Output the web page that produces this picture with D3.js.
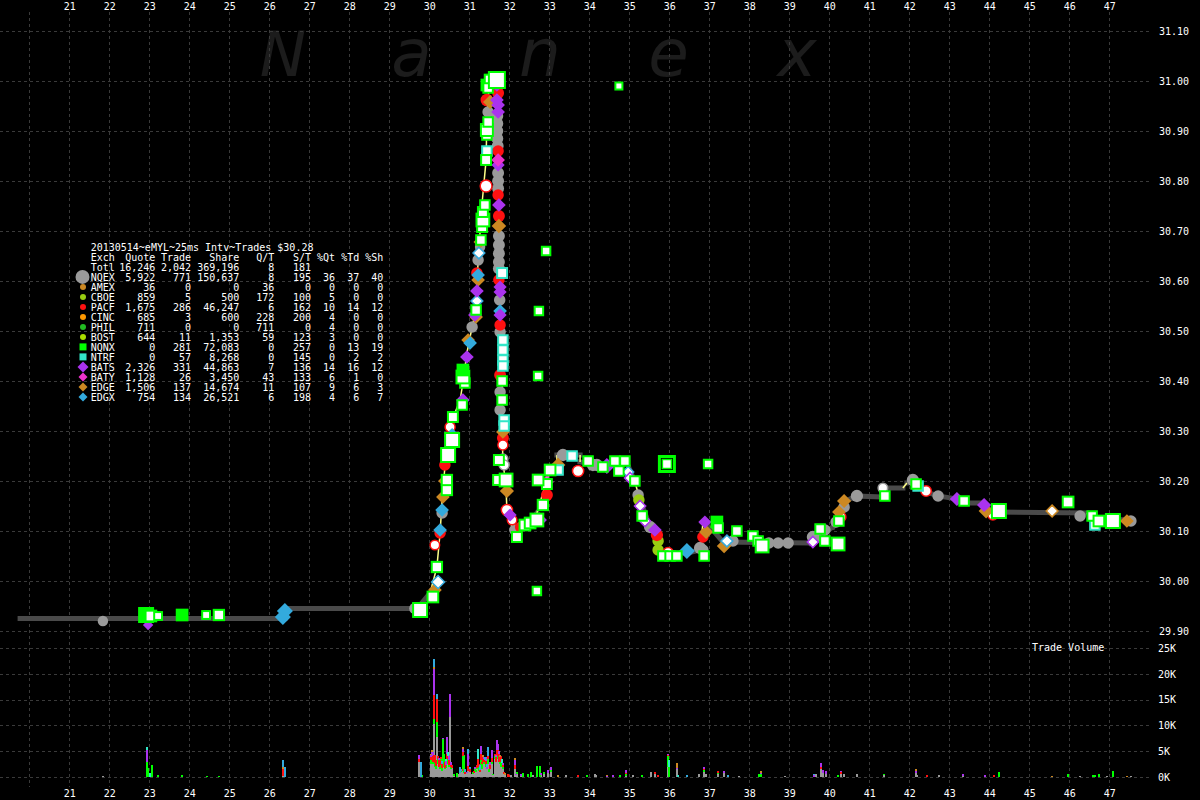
<!DOCTYPE html>
<html><head><meta charset="utf-8">
<script src="https://cdn.jsdelivr.net/npm/d3@7"></script>
<style>
html,body{margin:0;padding:0;background:#000;}
svg{display:block;}
text{font-family:"DejaVu Sans Mono",monospace;font-size:10px;fill:#fff;}
</style></head><body>
<svg id="chart" width="1200" height="800"></svg>
<script>
// ---------- DATA ----------
const secondTicks = d3.range(21, 48);
const gridSeconds = d3.range(20, 48);
const priceTicks = [29.9,30.0,30.1,30.2,30.3,30.4,30.5,30.6,30.7,30.8,30.9,31.0,31.1];
const volTicks = [0,5000,10000,15000,20000,25000];
const watermark = ["N","a","n","e","x"];

const title = "20130514~eMYL~25ms Intv~Trades $30.28";
const headers = ["Exch","Quote","Trade","Share","Q/T","S/T","%Qt","%Td","%Sh"];
const totals = ["Totl",16246,2042,369196,8,181];
const exch   = ["NQEX","AMEX","CBOE","PACF","CINC","PHIL","BOST","NQNX","NTRF","BATS","BATY","EDGE","EDGX"];
const quotes = [5922,36,859,1675,685,711,644,0,0,2326,1128,1506,754];
const trades = [771,0,5,286,3,0,11,281,57,331,26,137,134];
const shares = [150637,0,500,46247,600,0,1353,72083,8268,44863,3450,14674,26521];
const qPerT  = [8,36,172,6,228,711,59,0,0,7,43,11,6];
const sPerT  = [195,0,100,162,200,0,123,257,145,136,133,107,198];
const pctQt  = [36,0,5,10,4,4,3,0,0,14,6,9,4];
const pctTd  = [37,0,0,14,0,0,0,13,2,16,1,6,6];
const pctSh  = [40,0,0,12,0,0,0,19,2,12,0,3,7];

// price path [seconds, price]
const pricePath = [
[19.77,29.925],[26.39,29.925],[26.39,29.945],[29.72,29.945],[29.77,29.952],[30.02,29.976],[30.19,30.028],[30.27,30.096],[30.32,30.162],[30.39,30.228],[30.47,30.268],[30.57,30.296],[30.64,30.336],[30.77,30.362],[30.84,30.396],[30.94,30.456],[31.07,30.508],[31.17,30.542],[31.22,30.642],[31.32,30.756],[31.42,30.842],[31.44,30.928],[31.49,30.988],[31.64,31.008],[31.72,30.976],[31.72,30.842],[31.74,30.708],[31.77,30.562],[31.77,30.496],[31.82,30.396],[31.82,30.296],[31.84,30.242],[31.92,30.182],[31.94,30.142],[32.09,30.102],[32.44,30.108],[32.69,30.136],[32.84,30.176],[33.02,30.222],[33.19,30.222],[33.19,30.252],[33.77,30.252],[33.77,30.238],[34.27,30.232],[34.94,30.236],[35.14,30.198],[35.27,30.162],[35.52,30.108],[35.69,30.088],[35.84,30.056],[36.44,30.056],[36.77,30.062],[36.84,30.116],[37.09,30.102],[37.34,30.078],[39.52,30.076],[40.09,30.108],[40.34,30.158],[40.69,30.170],[41.27,30.168],[41.34,30.186],[41.84,30.186],[41.94,30.196],[42.14,30.196],[42.44,30.178],[42.72,30.170],[43.19,30.164],[43.34,30.156],[43.84,30.156],[44.09,30.138],[46.44,30.136],[46.59,30.124],[47.52,30.122]
];

// trades [seconds, price, shares, flag]  flag: 0 filled, 1 hollow, 2 double
const nqexTrades = [
[21.84,29.920,300,0],[29.64,29.945,500,0],[30.09,29.968,500,0],[30.32,30.136,500,0],[31.07,30.508,500,0],[31.22,30.642,500,0],[31.27,30.668,300,0],[31.47,30.938,500,0],
[31.70,30.930,600,0],[31.70,30.915,600,0],[31.70,30.900,600,0],[31.70,30.885,600,0],[31.71,30.870,600,0],
[31.72,30.816,600,0],[31.72,30.800,600,0],[31.72,30.785,600,0],
[31.74,30.690,600,0],[31.74,30.672,600,0],[31.74,30.655,600,0],[31.74,30.638,600,0],[31.74,30.625,600,0],
[31.76,30.562,500,0],[31.77,30.498,500,0],[31.77,30.378,500,0],[31.77,30.342,500,0],
[31.84,30.244,500,1],[31.87,30.232,500,1],[32.14,30.102,500,0],[33.34,30.252,700,0],[34.09,30.232,700,0],[34.19,30.232,700,0],
[35.22,30.172,500,0],[35.52,30.108,700,0],[36.77,30.066,700,0],[36.84,30.062,500,0],[37.59,30.080,500,0],
[38.49,30.076,500,0],[38.72,30.076,500,0],[38.97,30.076,500,0],[39.59,30.088,700,0],[39.67,30.088,500,0],[39.89,30.102,500,0],
[40.17,30.118,500,0],[40.37,30.148,500,0],[40.69,30.170,700,0],[41.34,30.186,400,1],[42.09,30.202,700,0],[42.72,30.170,500,0],[46.27,30.130,500,0],[47.54,30.120,500,0]
];
const cboeTrades = [[35.24,30.162,500,0],[35.72,30.080,500,0],[35.72,30.062,500,0]];
const pacfTrades = [
[30.14,30.072,400,1],[30.27,30.096,500,0],[30.39,30.232,500,0],[30.52,30.308,500,1],[31.19,30.616,500,0],[31.42,30.790,1000,1],[31.44,30.852,500,0],[31.44,30.962,800,0],
[31.72,30.976,600,0],[31.72,30.860,500,0],[31.72,30.772,500,0],[31.74,30.730,600,0],[31.74,30.602,500,0],[31.77,30.512,500,0],[31.77,30.412,600,0],[31.84,30.286,600,0],
[31.84,30.272,500,1],[31.94,30.142,800,1],[32.07,30.122,400,1],[32.27,30.108,300,0],[32.94,30.172,600,0],[33.72,30.220,800,1],[35.69,30.092,700,0],[35.97,30.056,700,1],
[36.84,30.088,500,0],[40.29,30.128,500,1],[42.42,30.180,600,1],[44.09,30.132,500,1]
];
const edgeTrades = [
[30.14,29.982,600,0],[30.34,30.168,600,0],[30.39,30.200,600,0],[30.97,30.482,600,0],[31.17,30.528,600,0],[31.22,30.602,600,0],[31.27,30.678,500,0],[31.52,30.958,700,0],
[31.74,30.710,800,0],[31.84,30.298,600,0],[31.94,30.180,700,0],[33.22,30.232,800,0],[36.92,30.098,700,0],[37.19,30.108,500,0],[37.37,30.070,800,0],[40.24,30.138,600,0],
[40.37,30.160,700,0],[43.92,30.140,900,0],[47.44,30.120,600,0],[45.57,30.140,500,1]
];
const edgxTrades = [
[26.34,29.928,1200,0],[26.39,29.940,1200,0],[30.22,29.998,800,1],[30.27,30.102,600,0],[30.32,30.142,600,0],[30.57,30.290,1200,0],[31.02,30.476,600,0],[31.19,30.560,500,1],
[31.22,30.612,600,0],[31.24,30.656,500,1],[31.77,30.540,600,0],[34.97,30.218,400,1],[36.44,30.060,1200,0],[37.44,30.080,500,1]
];
const batsTrades = [
[22.97,29.912,100,0],[30.84,30.362,600,0],[30.94,30.448,600,0],[31.14,30.532,600,0],[31.19,30.580,600,0],[31.69,30.992,600,0],[31.69,30.962,600,0],[31.72,30.952,600,0],
[31.72,30.938,600,0],[31.72,30.832,500,0],[31.74,30.752,600,0],[31.77,30.588,500,0],[31.77,30.578,500,0],[31.77,30.532,500,0],[32.02,30.132,500,0],[32.77,30.122,600,0],
[34.44,30.230,1200,0],[35.02,30.206,400,1],[35.27,30.150,400,1],[35.39,30.120,400,1],[35.64,30.102,600,0],[36.89,30.118,500,0],[39.59,30.078,400,1],[43.19,30.164,700,0],[43.87,30.152,700,0]
];
const batyTrades = [[31.72,30.842,600,0],[32.94,30.198,500,1]];
const ntrfTrades = [
[31.44,30.860,500,1],[31.82,30.616,600,1],[31.84,30.482,500,1],[31.84,30.462,500,1],[31.84,30.442,500,1],[31.84,30.430,500,1],[31.87,30.322,500,1],[31.87,30.310,500,1],
[33.22,30.222,500,1],[33.57,30.250,500,1],[42.22,30.190,500,1],[46.64,30.112,500,1]
];
const nqnxTrades = [
[22.92,29.932,2000,0],[23.04,29.930,800,1],[23.22,29.930,200,1],[23.82,29.932,800,0],[24.42,29.932,200,1],[24.74,29.932,700,1],
[29.77,29.942,2000,1],[30.09,29.968,800,1],[30.19,30.028,700,1],[30.44,30.182,700,1],[30.44,30.202,700,1],[30.47,30.252,2000,1],[30.57,30.282,2000,1],[30.59,30.328,600,1],
[30.82,30.352,500,1],[30.89,30.396,500,1],[30.84,30.408,1500,1],[30.84,30.422,800,0],[31.17,30.542,500,1],[31.29,30.682,500,1],[31.32,30.708,600,1],[31.34,30.722,1500,1],
[31.34,30.738,600,1],[31.39,30.752,500,1],[31.42,30.842,600,1],[31.44,30.892,500,1],[31.44,30.902,1200,1],[31.47,30.918,500,1],[31.44,30.992,800,0],[31.52,31.002,800,1],
[31.47,30.986,500,1],[31.69,31.002,3000,1],
[31.82,30.400,500,1],[31.82,30.362,500,1],[31.74,30.242,600,1],[31.72,30.202,600,1],[31.92,30.202,1500,1],[32.19,30.088,600,1],[32.39,30.112,800,1],[32.52,30.116,800,1],
[32.69,30.122,1500,1],[32.84,30.152,700,1],[32.94,30.194,600,1],[32.72,30.202,800,1],[33.02,30.222,800,1],
[33.97,30.240,500,1],[34.34,30.228,500,1],[34.64,30.240,500,1],[34.74,30.220,500,1],[34.89,30.240,500,1],[35.14,30.200,500,1],[35.32,30.130,500,1],[35.84,30.050,500,1],
[36.02,30.050,500,1],[36.19,30.050,500,1],[36.87,30.050,500,1],[37.19,30.118,800,0],[37.22,30.106,500,1],[37.69,30.100,500,1],[38.09,30.090,500,1],[38.22,30.080,500,1],
[38.32,30.070,1500,1],[39.77,30.104,500,1],[39.89,30.080,500,1],[40.22,30.074,1500,1],[40.24,30.120,500,1],[41.39,30.170,500,1],[42.17,30.194,500,1],[43.37,30.160,500,1],
[44.24,30.140,2000,1],[45.97,30.158,800,1],[46.57,30.130,500,1],[46.74,30.120,800,1],[47.09,30.120,2000,1],
[34.74,30.990,100,1],[32.92,30.660,300,1],[32.74,30.540,300,1],[32.72,30.410,300,1],[32.69,29.980,300,1],[36.97,30.234,300,1],[35.94,30.234,3000,2]
];

// trade volume per 25ms interval [seconds, shares]
const volNQEX = [[21.85,150],[26.35,200],[29.75,3000],[30.05,2500],[30.075,3000],[30.10,2500],[30.125,10300],[30.15,2000],[30.175,1500],[30.20,7700],[30.225,2500],[30.25,2000],[30.275,1500],[30.30,2000],[30.325,1200],[30.35,3000],[30.375,2000],[30.40,1500],[30.425,1800],[30.45,3500],[30.475,2500],[30.50,2000],[30.525,11600],[30.55,1500],[30.575,1800],[30.60,400],[30.625,200],[30.725,600],[30.77,800],[30.80,900],[30.825,1200],[30.85,1500],[30.875,800],[30.90,600],[30.935,700],[30.975,1200],[31.02,1000],[31.05,500],[31.10,600],[31.125,800],[31.15,1000],[31.175,900],[31.20,1500],[31.225,2000],[31.25,1200],[31.275,1000],[31.30,2000],[31.325,1500],[31.35,2500],[31.375,3000],[31.40,2500],[31.425,2000],[31.45,1500],[31.475,2500],[31.50,1000],[31.525,1500],[31.56,2500],[31.60,300],[31.65,3500],[31.675,3000],[31.69,4000],[31.715,3500],[31.735,3000],[31.76,2500],[31.785,2000],[31.81,2000],[31.835,1500],[31.86,600],[31.90,400],[32.05,300],[32.14,1500],[32.175,300],[32.20,500],[32.30,200],[32.60,300],[32.80,400],[32.87,600],[32.975,800],[33.035,1000],[33.41,400],[34.14,500],[34.17,400],[34.92,200],[35.10,400],[35.54,900],[35.64,500],[35.975,2000],[36.20,1500],[36.75,600],[36.875,1000],[36.92,500],[37.225,500],[37.375,700],[37.75,150],[38.9,100],[39.67,600],[39.79,1500],[39.835,800],[39.91,500],[40.30,600],[40.375,600],[40.70,600],[41.37,400],[42.17,700],[42.20,400],[42.75,300],[43.35,200],[46.27,150],[46.935,150],[47.54,150]];
const volNQNX = [[22.95,3000],[22.975,1700],[23.06,2400],[23.225,300],[23.825,300],[24.435,150],[24.75,200],[29.825,300],[30.05,800],[30.075,1000],[30.10,500],[30.125,1000],[30.15,800],[30.175,600],[30.20,2900],[30.225,1000],[30.275,800],[30.30,1500],[30.325,500],[30.35,4300],[30.375,2500],[30.40,300],[30.425,500],[30.475,1000],[30.50,300],[30.55,500],[30.625,300],[30.685,700],[30.80,300],[30.85,2500],[30.875,3500],[31.10,300],[31.15,600],[31.175,500],[31.20,300],[31.25,800],[31.30,1200],[31.325,1000],[31.35,500],[31.40,800],[31.425,500],[31.475,1000],[31.50,600],[31.56,500],[31.60,200],[31.65,500],[31.715,800],[31.76,500],[31.785,1500],[31.81,800],[31.835,500],[32.20,500],[32.35,700],[32.46,500],[32.54,1000],[32.70,2100],[32.77,2100],[32.87,400],[33.035,300],[33.95,300],[34.77,400],[34.92,300],[35.325,400],[35.975,2000],[36.00,2000],[36.875,300],[37.225,300],[38.24,600],[38.29,500],[40.225,400],[41.37,200],[44.25,1000],[45.975,500],[46.59,300],[46.64,300],[46.75,500],[47.10,1200]];
const volPACF = [[26.35,1300],[29.75,500],[30.05,500],[30.10,1200],[30.125,4500],[30.15,1500],[30.175,1200],[30.20,4500],[30.225,500],[30.25,1200],[30.275,1000],[30.30,300],[30.325,800],[30.40,1200],[30.45,1000],[30.475,500],[30.50,1000],[30.55,300],[30.575,600],[30.825,300],[30.85,800],[30.90,300],[30.975,1000],[31.02,600],[31.125,400],[31.20,600],[31.225,1500],[31.25,500],[31.275,400],[31.30,1300],[31.325,500],[31.35,800],[31.375,500],[31.425,600],[31.475,500],[31.525,800],[31.56,700],[31.65,500],[31.675,800],[31.69,1200],[31.715,1000],[31.735,1500],[31.76,800],[31.785,500],[31.835,300],[31.86,300],[31.97,500],[32.00,400],[32.14,800],[33.725,400],[34.92,300],[35.64,400],[35.725,400],[35.975,200],[36.875,300],[37.225,400],[39.79,400],[40.30,300],[42.435,300],[44.12,400]];
const volBATS = [[22.95,2300],[29.75,800],[30.05,500],[30.075,800],[30.10,700],[30.125,5200],[30.25,500],[30.35,300],[30.425,800],[30.45,3300],[30.50,900],[30.525,4400],[30.55,600],[30.85,600],[30.935,300],[30.975,2200],[31.15,400],[31.30,1500],[31.375,300],[31.425,700],[31.45,500],[31.525,600],[31.56,1500],[31.675,500],[31.69,2000],[31.715,1000],[31.735,500],[31.835,500],[32.14,1000],[32.175,300],[32.30,300],[32.80,300],[32.975,600],[33.035,700],[34.435,200],[34.60,300],[34.92,500],[35.975,300],[36.20,300],[36.875,400],[37.375,500],[38.29,300],[39.625,300],[39.79,900],[39.835,600],[39.91,700],[40.30,300],[42.17,400],[43.35,300],[43.89,400]];
const volEDGE = [[26.35,400],[30.05,200],[30.075,400],[30.125,400],[30.85,400],[31.35,400],[31.76,500],[31.90,300],[32.14,300],[33.225,400],[34.435,200],[36.20,1000],[38.29,400],[42.17,500],[45.57,200],[47.44,200]];
const volEDGX = [[26.35,1400],[26.40,1900],[29.80,2900],[30.125,1500],[30.20,900],[30.325,600],[30.77,1200],[30.80,300],[30.90,600],[30.975,1000],[31.02,400],[31.275,1000],[31.40,500],[31.45,500],[31.475,1800],[36.45,300],[37.475,300],[39.625,300]];
const volNTRF = [[22.95,600],[23.02,800],[30.425,400],[30.475,800],[31.225,1900],[31.81,600],[36.00,1300],[36.225,300]];

// ---------- STYLE ----------
const C = {NQEX:"#9a9a9a",AMEX:"#cc8822",CBOE:"#99cc11",PACF:"#ff1111",CINC:"#ff9900",PHIL:"#22bb22",BOST:"#aadd00",
  NQNX:"#00ff00",NTRF:"#33e6c8",BATS:"#aa33ee",BATY:"#ee33cc",EDGE:"#cc8822",EDGX:"#33aadd"};
const legendShape = {NQEX:"bigcircle",AMEX:"circle",CBOE:"circle",PACF:"circle",CINC:"circle",PHIL:"circle",BOST:"circle",
  NQNX:"square",NTRF:"square",BATS:"bigdiamond",BATY:"diamond",EDGE:"diamond",EDGX:"diamond"};

const svg = d3.select("#chart");
svg.append("rect").attr("width",1200).attr("height",800).attr("fill","#000");

const x = d3.scaleLinear().domain([21,47]).range([69.3,1109.3]);
const y = d3.scaleLinear().domain([29.9,31.1]).range([631,31]);
const yv = d3.scaleLinear().domain([0,25000]).range([777,648]);
const sz = d3.scaleSqrt().domain([0,3000]).range([7,18]).clamp(true);

// watermark
svg.append("g").selectAll("text").data(watermark).join("text")
  .attr("x",(d,i)=>283 + i*128.5).attr("y",76)
  .attr("text-anchor","middle")
  .style("font-family","'DejaVu Sans',sans-serif").style("font-style","italic")
  .style("font-size",(d,i)=> i===0 ? "62px" : "66px")
  .style("fill","#1c1c1c").text(d=>d);

// grid
const grid = svg.append("g").attr("stroke","#3a3a3a").attr("stroke-dasharray","3,3").attr("shape-rendering","crispEdges");
grid.selectAll(".vg").data(gridSeconds).join("line")
  .attr("x1",d=>Math.round(x(d))+0.5).attr("x2",d=>Math.round(x(d))+0.5).attr("y1",12).attr("y2",787);
grid.selectAll(".hg").data(priceTicks).join("line")
  .attr("x1",0).attr("x2",1152).attr("y1",d=>Math.round(y(d))+0.5).attr("y2",d=>Math.round(y(d))+0.5);
grid.selectAll(".vlg").data(volTicks).join("line")
  .attr("x1",0).attr("x2",1152).attr("y1",d=>Math.round(yv(d))+0.5).attr("y2",d=>Math.round(yv(d))+0.5);

// axes (labels only)
function styleAxis(g){
  g.select(".domain").remove();
  g.selectAll("line").remove();
  g.attr("font-family",null).attr("font-size",null);
  g.selectAll("text").attr("fill","#fff");
}
svg.append("g").attr("transform","translate(0,9.5)")
  .call(d3.axisTop(x).tickValues(secondTicks).tickFormat(d3.format("d")).tickSize(0).tickPadding(0)).call(styleAxis);
svg.append("g").attr("transform","translate(0,790)")
  .call(d3.axisBottom(x).tickValues(secondTicks).tickFormat(d3.format("d")).tickSize(0).tickPadding(0)).call(styleAxis);
svg.append("g").attr("transform","translate(1159,0)")
  .call(d3.axisRight(y).tickValues(priceTicks).tickFormat(d3.format(".2f")).tickSize(0).tickPadding(0)).call(styleAxis);
svg.append("g").attr("transform","translate(1158,0)")
  .call(d3.axisRight(yv).tickValues(volTicks).tickFormat(d=>(d/1000)+"K").tickSize(0).tickPadding(0)).call(styleAxis);
svg.append("text").attr("x",1032).attr("y",651).text("Trade Volume");

// volume stacked bars
const volKeys = ["NQEX","NQNX","PACF","BATS","EDGE","EDGX","NTRF"];
const volSeries = {NQEX:volNQEX,NQNX:volNQNX,PACF:volPACF,BATS:volBATS,EDGE:volEDGE,EDGX:volEDGX,NTRF:volNTRF};
const tMap = new Map();
volKeys.forEach(k=>volSeries[k].forEach(([t,v])=>{
  if(!tMap.has(t)){const o={t}; volKeys.forEach(kk=>o[kk]=0); tMap.set(t,o);}
  tMap.get(t)[k]+=v;
}));
const volTable = Array.from(tMap.values()).sort((a,b)=>a.t-b.t);
const stacked = d3.stack().keys(volKeys)(volTable);
svg.append("g").attr("shape-rendering","crispEdges").selectAll("g").data(stacked).join("g")
  .attr("fill",d=>C[d.key])
  .selectAll("rect").data(d=>d.filter(s=>s[1]>s[0])).join("rect")
  .attr("x",d=>Math.round(x(d.data.t))-1).attr("width",2)
  .attr("y",d=>yv(d[1])).attr("height",d=>yv(d[0])-yv(d[1]));

// price path
const segs = d3.pairs(pricePath);
const pathG = svg.append("g");
pathG.selectAll(".pg").data(segs.filter(([a,b])=>b[0]-a[0]>=0.2)).join("line")
  .attr("x1",d=>x(d[0][0])).attr("y1",d=>y(d[0][1])).attr("x2",d=>x(d[1][0])).attr("y2",d=>y(d[1][1]))
  .attr("stroke","#4a4a4a").attr("stroke-width",5).attr("stroke-linecap","square");
pathG.selectAll(".py").data(segs.filter(([a,b])=>b[0]-a[0]<0.2)).join("line")
  .attr("x1",d=>x(d[0][0])).attr("y1",d=>y(d[0][1])).attr("x2",d=>x(d[1][0])).attr("y2",d=>y(d[1][1]))
  .attr("stroke","#ffff88").attr("stroke-width",1.5);

// markers
function diamondPath(cx,cy,s){const h=s/2;return `M${cx},${cy-h}L${cx+h},${cy}L${cx},${cy+h}L${cx-h},${cy}Z`;}
function drawTrades(data, shape, color){
  const g = svg.append("g");
  data.forEach(([t,p,v,f])=>{
    const cx=x(t), cy=y(p), s=sz(v);
    if(shape==="circle"){
      g.append("circle").attr("cx",cx).attr("cy",cy).attr("r",f? s/2-0.75 : s/2)
        .attr("fill",f?"#fff":color).attr("stroke",f?color:"none").attr("stroke-width",1.5);
    } else if(shape==="diamond"){
      g.append("path").attr("d",diamondPath(cx,cy,f? s*1.15-1.5 : s*1.15))
        .attr("fill",f?"#fff":color).attr("stroke",f?color:"none").attr("stroke-width",1.5);
    } else {
      if(f===2){
        g.append("rect").attr("x",cx-s/2+1.5).attr("y",cy-s/2+1.5).attr("width",s-3).attr("height",s-3)
          .attr("fill","#000").attr("stroke",color).attr("stroke-width",3);
        const si=s-9;
        g.append("rect").attr("x",cx-si/2).attr("y",cy-si/2).attr("width",si).attr("height",si)
          .attr("fill","#fff").attr("stroke",color).attr("stroke-width",1.5);
      } else if(f===1){
        g.append("rect").attr("x",cx-s/2+1).attr("y",cy-s/2+1).attr("width",s-2).attr("height",s-2)
          .attr("fill","#fff").attr("stroke",color).attr("stroke-width",2);
      } else {
        g.append("rect").attr("x",cx-s/2).attr("y",cy-s/2).attr("width",s).attr("height",s).attr("fill",color);
      }
    }
  });
}
drawTrades(nqexTrades,"circle",C.NQEX);
drawTrades(cboeTrades,"circle",C.CBOE);
drawTrades(pacfTrades,"circle",C.PACF);
drawTrades(edgeTrades,"diamond",C.EDGE);
drawTrades(edgxTrades,"diamond",C.EDGX);
drawTrades(batsTrades,"diamond",C.BATS);
drawTrades(batyTrades,"diamond",C.BATY);
drawTrades(ntrfTrades,"square",C.NTRF);
drawTrades(nqnxTrades,"square",C.NQNX);

// legend table
const lg = svg.append("g");
const colRight = [155.3,191,239.3,274.3,311,335,359.3,383.3];
const base = i => 250.5 + 10*i;
lg.append("text").attr("x",90.7).attr("y",base(0)).text(title);
lg.append("text").attr("x",90.7).attr("y",base(1)).text(headers[0]);
headers.slice(1).forEach((h,j)=>lg.append("text").attr("x",colRight[j]).attr("y",base(1)).attr("text-anchor","end").text(h));
const fmt = d3.format(",");
lg.append("text").attr("x",90.7).attr("y",base(2)).text(totals[0]);
totals.slice(1).forEach((v,j)=>lg.append("text").attr("x",colRight[j]).attr("y",base(2)).attr("text-anchor","end").text(fmt(v)));
exch.forEach((e,i)=>{
  const r = i+3;
  const vals=[quotes[i],trades[i],shares[i],qPerT[i],sPerT[i],pctQt[i],pctTd[i],pctSh[i]];
  lg.append("text").attr("x",90.7).attr("y",base(r)).text(e);
  vals.forEach((v,j)=>lg.append("text").attr("x",colRight[j]).attr("y",base(r)).attr("text-anchor","end").text(fmt(v)));
  const cy = base(r)-3.6, cx = 83, col = C[e], sh = legendShape[e];
  if(sh==="bigcircle") lg.append("circle").attr("cx",cx-0.5).attr("cy",cy).attr("r",7).attr("fill",col);
  else if(sh==="circle") lg.append("circle").attr("cx",cx).attr("cy",cy).attr("r",3).attr("fill",col);
  else if(sh==="square") lg.append("rect").attr("x",cx-3.5).attr("y",cy-3.5).attr("width",7).attr("height",7).attr("fill",col);
  else lg.append("path").attr("d",diamondPath(cx,cy, sh==="bigdiamond"?11:9)).attr("fill",col);
});
</script></body></html>
